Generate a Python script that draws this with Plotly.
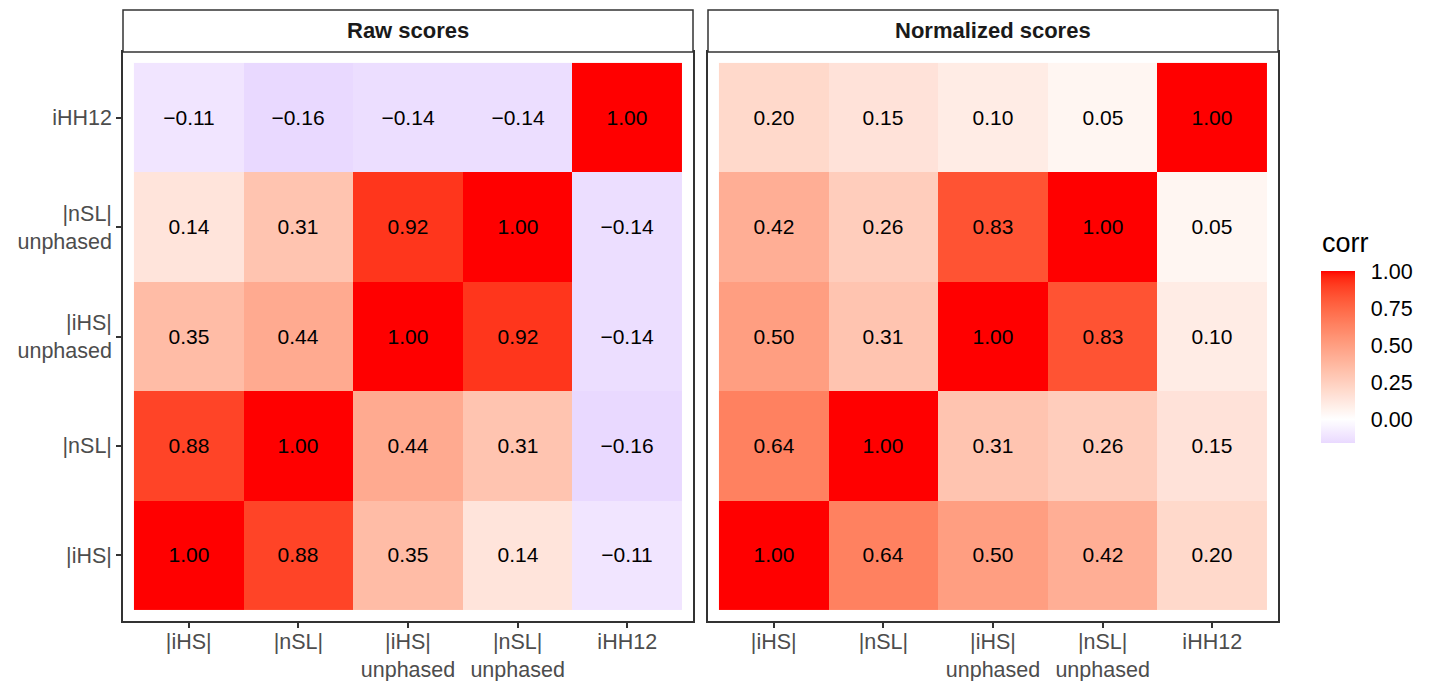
import plotly.graph_objects as go
import numpy as np

# ---------------- data ----------------
labels = ["|iHS|", "|nSL|", "|iHS|<br>unphased", "|nSL|<br>unphased", "iHH12"]
panels = ["Raw scores", "Normalized scores"]
legend_title = "corr"

# rows = y categories (bottom to top), cols = x categories
raw_scores = [
    [1.00, 0.88, 0.35, 0.14, -0.11],
    [0.88, 1.00, 0.44, 0.31, -0.16],
    [0.35, 0.44, 1.00, 0.92, -0.14],
    [0.14, 0.31, 0.92, 1.00, -0.14],
    [-0.11, -0.16, -0.14, -0.14, 1.00],
]
normalized_scores = [
    [1.00, 0.64, 0.50, 0.42, 0.20],
    [0.64, 1.00, 0.31, 0.26, 0.15],
    [0.50, 0.31, 1.00, 0.83, 0.10],
    [0.42, 0.26, 0.83, 1.00, 0.05],
    [0.20, 0.15, 0.10, 0.05, 1.00],
]
cbar_ticks = [0.0, 0.25, 0.5, 0.75, 1.0]
cmin, cmax = -0.16, 1.0

# ---------------- colour scale (Lab interpolation like ggplot gradient2) -------------
def srgb_to_lin(c):
    c = c / 255.0
    return np.where(c <= 0.04045, c / 12.92, ((c + 0.055) / 1.055) ** 2.4)

def lin_to_srgb(c):
    c = np.clip(c, 0, 1)
    return np.where(c <= 0.0031308, 12.92 * c, 1.055 * c ** (1 / 2.4) - 0.055) * 255

M = np.array([[0.4124, 0.3576, 0.1805], [0.2126, 0.7152, 0.0722], [0.0193, 0.1192, 0.9505]])
WHITE = np.array([0.95047, 1.0, 1.08883])

def rgb_to_lab(rgb):
    xyz = M @ srgb_to_lin(np.array(rgb, float)) / WHITE
    f = np.where(xyz > 0.008856, np.cbrt(xyz), 7.787 * xyz + 16 / 116)
    return np.array([116 * f[1] - 16, 500 * (f[0] - f[1]), 200 * (f[1] - f[2])])

def lab_to_rgb(lab):
    fy = (lab[0] + 16) / 116
    fx = fy + lab[1] / 500
    fz = fy - lab[2] / 200
    f = np.array([fx, fy, fz])
    xyz = np.where(f ** 3 > 0.008856, f ** 3, (f - 16 / 116) / 7.787) * WHITE
    rgb = lin_to_srgb(np.linalg.inv(M) @ xyz)
    return "rgb(%d,%d,%d)" % tuple(np.round(np.clip(rgb, 0, 255)).astype(int))

lab_w = rgb_to_lab([255, 255, 255])
lab_r = rgb_to_lab([255, 0, 0])
lab_b = rgb_to_lab([0, 0, 255])

def colour(v):
    if v >= 0:
        return lab_to_rgb(lab_w + (lab_r - lab_w) * v)
    return lab_to_rgb(lab_w + (lab_b - lab_w) * (-v))

colorscale = []
for v in np.linspace(cmin, cmax, 59):
    colorscale.append([(v - cmin) / (cmax - cmin), colour(v)])
colorscale[0][0] = 0.0
colorscale[-1][0] = 1.0

def fmt(m):
    return [[("%.2f" % v).replace("-", "\u2212") for v in row] for row in m]

# ---------------- figure ----------------
OFF = 8  # page body margin
W, H = 1440 - 2 * OFF, 689 - 2 * OFF
ml, mt = 123 - OFF, 52 - OFF
mr = W - (1278 - OFF)
mb = H - (621 - OFF)
pw = W - ml - mr
ph = H - mt - mb
panel_w = 570
d1 = [0, panel_w / pw]
d2 = [1 - panel_w / pw, 1]

FONT = "Liberation Sans, Arial"
idx = list(range(len(labels)))
fig = go.Figure()
for i, z in enumerate([raw_scores, normalized_scores]):
    fig.add_trace(go.Heatmap(
        z=z, x=idx, y=idx, coloraxis="coloraxis",
        text=fmt(z), texttemplate="%{text}",
        textfont=dict(family=FONT, size=21, color="black"),
        xaxis="x" if i == 0 else "x2", yaxis="y" if i == 0 else "y2",
        hoverinfo="skip",
    ))

axis_common = dict(
    range=[-0.6, 4.6], tickvals=idx, showgrid=False, zeroline=False,
    showline=True, mirror=True, linecolor="#333333", linewidth=1.5,
    ticklen=5, tickwidth=1.5, tickcolor="#333333",
    tickfont=dict(family=FONT, size=21.5, color="#4D4D4D"),
    fixedrange=True, automargin=False,
)

# colourbar: bar 271..443 on screen
cb_top, cb_bot = 271 - OFF, 443 - OFF
fig.update_layout(
    width=W, height=H,
    margin=dict(l=ml, r=mr, t=mt, b=mb, autoexpand=False),
    paper_bgcolor="white", plot_bgcolor="white",
    xaxis=dict(domain=d1, ticktext=labels, anchor="y", ticks="outside",
               ticklabelstandoff=-5, **axis_common),
    xaxis2=dict(domain=d2, ticktext=labels, anchor="y2", ticks="outside",
                ticklabelstandoff=-5, **axis_common),
    yaxis=dict(domain=[0, 1], ticktext=labels, anchor="x", ticks="outside",
               ticklabelstandoff=0, **axis_common),
    yaxis2=dict(domain=[0, 1], ticktext=labels, anchor="x2", showticklabels=False,
                ticks="", **axis_common),
    coloraxis=dict(
        colorscale=colorscale, cmin=cmin, cmax=cmax,
        colorbar=dict(
            x=(1321 - OFF - ml) / pw, xanchor="left", xpad=0,
            y=1 - ((cb_top + cb_bot) / 2 - mt) / ph, yanchor="middle", ypad=0,
            len=cb_bot - cb_top, lenmode="pixels", thickness=34, thicknessmode="pixels",
            outlinewidth=0,
            tickvals=cbar_ticks, ticktext=["%.2f" % t for t in cbar_ticks],
            ticks="outside", ticklen=12, tickcolor="white",
            tickfont=dict(family=FONT, size=21.5, color="black"),
        ),
    ),
)

# legend title
fig.add_annotation(xref="paper", yref="paper", x=(1320 - OFF - ml) / pw,
                   y=1 - (243 - OFF - mt) / ph, xanchor="left", yanchor="middle",
                   text=legend_title, showarrow=False,
                   font=dict(family=FONT, size=27, color="black"))

strip_h = 42 / ph
for xref, name in [("x domain", panels[0]), ("x2 domain", panels[1])]:
    fig.add_shape(type="rect", xref=xref, yref="paper", x0=0, x1=1, y0=1, y1=1 + strip_h,
                  line=dict(color="#333333", width=1.5), fillcolor="white", layer="above")
    fig.add_annotation(xref=xref, yref="paper", x=0.5, y=1 + strip_h / 2,
                       text="<b>%s</b>" % name, showarrow=False, yanchor="middle",
                       font=dict(family=FONT, size=22, color="#1A1A1A"))

fig.write_html("out.html")
